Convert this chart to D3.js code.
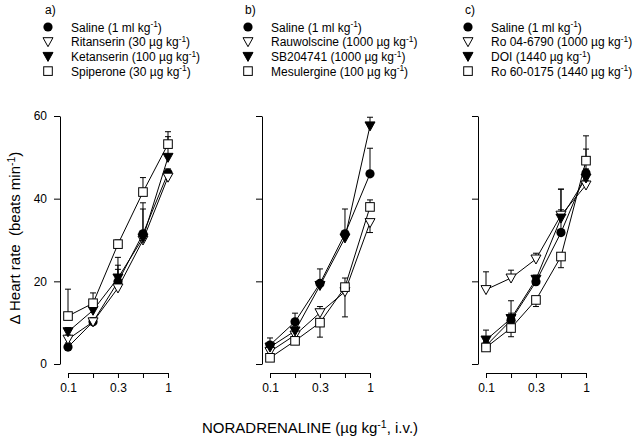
<!DOCTYPE html>
<html><head><meta charset="utf-8">
<script src="https://cdn.jsdelivr.net/npm/d3@7"></script>
<style>
body{margin:0;background:#fff}
svg{display:block;font-family:"Liberation Sans",Arial,sans-serif}
</style></head>
<body><svg id="c" width="640" height="439"></svg>
<script>
// ---- data ----
const doses = [0.1, 0.178, 0.316, 0.562, 1];
const xTickLabels = ["0.1", "", "0.3", "", "1"];
const yTicks = [0, 20, 40, 60];
const panelLabels = ["a)", "b)", "c)"];

const namesA = ["Saline", "Ritanserin", "Ketanserin", "Spiperone"];
const dosesA = ["1 ml kg", "30 µg kg", "100 µg kg", "30 µg kg"];
const salineA = [4.1, 10.2, 19.9, 31.5, 46.2];
const ritanserin = [6.0, 10.2, 18.4, 30.0, 45.2];
const ketanserin = [7.8, 13.0, 20.8, 30.5, 50.0];
const spiperone = [11.6, 14.7, 29.0, 41.6, 53.2];
const salineAErr = [1, 1, 4, 6, 1];
const ritanserinErr = [1, 1, 4.5, 1, 1];
const ketanserinErr = [1, 1, 5, 8.5, 5];
const spiperoneErr = [6.5, 2.5, 1, 3.5, 3];

const namesB = ["Saline", "Rauwolscine", "SB204741", "Mesulergine"];
const dosesB = ["1 ml kg", "1000 µg kg", "1000 µg kg", "100 µg kg"];
const salineB = [4.6, 10.2, 19.5, 31.5, 46.0];
const rauwolscine = [3.0, 7.0, 12.4, 17.5, 34.2];
const sb204741 = [4.1, 8.0, 19.0, 30.5, 57.6];
const mesulergine = [1.5, 5.6, 10.0, 18.6, 38.0];
const salineBErr = [1.7, 2.1, 3.5, 6, 6.2];
const rauwolscineErr = [1, 1, 1.5, -6.1, -2.4];
const sb204741Err = [1, 1, 1, 1, 2.1];
const mesulergineErr = [1, 1, -3.5, 2.2, 1.7];

const namesC = ["Saline", "Ro 04-6790", "DOI", "Ro 60-0175"];
const dosesC = ["1 ml kg", "1000 µg kg", "1440 µg kg", "1440 µg kg"];
const salineC = [4.4, 10.6, 19.9, 31.8, 46.2];
const ro046790 = [18.0, 20.8, 25.4, 36.0, 43.3];
const doi = [5.8, 11.0, 20.5, 35.3, 45.0];
const ro600175 = [4.0, 8.7, 15.5, 26.0, 49.2];
const salineCErr = [1, 1.7, 1, 5.5, 1];
const ro046790Err = [4.3, 1.9, 1.4, 6.3, 1];
const doiErr = [2.4, 4.3, 1, 7, 7];
const ro600175Err = [1, -2.1, -1.6, -2.7, 6];

const symbols = ["circle", "triOpen", "triFilled", "square"];

const panels = [
  {left: 60, names: namesA, doses: dosesA, series: [salineA, ritanserin, ketanserin, spiperone],
   errs: [salineAErr, ritanserinErr, ketanserinErr, spiperoneErr], legX: 45, yLabels: true},
  {left: 262, names: namesB, doses: dosesB, series: [salineB, rauwolscine, sb204741, mesulergine],
   errs: [salineBErr, rauwolscineErr, sb204741Err, mesulergineErr], legX: 245, yLabels: false},
  {left: 478, names: namesC, doses: dosesC, series: [salineC, ro046790, doi, ro600175],
   errs: [salineCErr, ro046790Err, doiErr, ro600175Err], legX: 465, yLabels: false}
];

// ---- drawing ----
const svg = d3.select("#c");
const y = d3.scaleLinear().domain([0, 60]).range([364, 116]);

function drawSymbol(g, type, cx, cy) {
  if (type === "circle") {
    g.append("circle").attr("cx", cx).attr("cy", cy).attr("r", 4.6).attr("fill", "#000");
  } else if (type === "square") {
    g.append("rect").attr("x", cx - 4.3).attr("y", cy - 4.3).attr("width", 8.6).attr("height", 8.6)
      .attr("fill", "#fff").attr("stroke", "#000").attr("stroke-width", 1);
  } else {
    const p = `M${cx - 5},${cy - 4}L${cx + 5},${cy - 4}L${cx},${cy + 5}Z`;
    g.append("path").attr("d", p)
      .attr("fill", type === "triFilled" ? "#000" : "#fff")
      .attr("stroke", "#000").attr("stroke-width", 1);
  }
}

function supText(sel, main, tail) {
  sel.append("tspan").text(main);
  sel.append("tspan").attr("font-size", "0.7em").attr("dy", "-0.5em").text("-1");
  sel.append("tspan").attr("dy", "0.35em").text(tail);
}

panels.forEach((P, pi) => {
  const x = d3.scaleLog().domain([0.1, 1]).range([P.left + 8, P.left + 108]);
  const g = svg.append("g");

  // y axis
  const yAx = d3.axisLeft(y).tickValues(yTicks).tickSize(6).tickSizeOuter(0)
    .tickFormat(P.yLabels ? d3.format("d") : () => "");
  const ya = g.append("g").attr("transform", `translate(${P.left},0)`).call(yAx);
  ya.selectAll("text").attr("font-size", 12).attr("fill", "#000").attr("x", -13)
    .attr("font-family", "Liberation Sans, Arial, sans-serif");
  ya.selectAll("path,line").attr("stroke", "#000");

  // x axis
  const xAx = d3.axisBottom(x).tickValues(doses).tickSize(5).tickSizeOuter(0)
    .tickFormat((d, i) => xTickLabels[i]);
  const xa = g.append("g").attr("transform", "translate(0,373)").call(xAx);
  xa.selectAll("text").attr("font-size", 12).attr("fill", "#000").attr("y", 10)
    .attr("font-family", "Liberation Sans, Arial, sans-serif");
  xa.selectAll("path,line").attr("stroke", "#000");

  // series
  P.series.forEach((vals, si) => {
    const errs = P.errs[si];
    const sg = g.append("g");
    vals.forEach((v, i) => {
      const e = errs[i];
      const cx = x(doses[i]);
      sg.append("line").attr("x1", cx).attr("x2", cx).attr("y1", y(v)).attr("y2", y(v + e))
        .attr("stroke", "#000").attr("stroke-width", 1);
      sg.append("line").attr("x1", cx - 3).attr("x2", cx + 3).attr("y1", y(v + e)).attr("y2", y(v + e))
        .attr("stroke", "#000").attr("stroke-width", 1);
    });
    const line = d3.line().x((d, i) => x(doses[i])).y(d => y(d));
    sg.append("path").attr("d", line(vals)).attr("fill", "none").attr("stroke", "#000").attr("stroke-width", 1);
  });
  P.series.forEach((vals, si) => {
    vals.forEach((v, i) => drawSymbol(g, symbols[si], x(doses[i]), y(v)));
  });

  // legend
  const lg = svg.append("g");
  lg.append("text").attr("x", P.legX).attr("y", 14).attr("font-size", 12).text(panelLabels[pi]);
  P.names.forEach((n, i) => {
    const ry = 27 + i * 14.7;
    drawSymbol(lg, symbols[i], P.legX + 3, ry);
    const t = lg.append("text").attr("x", P.legX + 26).attr("y", ry + 4.5).attr("font-size", 12);
    supText(t, `${n} (${P.doses[i]}`, ")");
  });
});

// axis titles
const yt = svg.append("text").attr("transform", "translate(20,238) rotate(-90)")
  .attr("text-anchor", "middle").attr("font-size", 15);
yt.append("tspan").text("Δ Heart rate\u00a0\u00a0(beats min");
yt.append("tspan").attr("font-size", "0.7em").attr("dy", "-0.5em").text("-1");
yt.append("tspan").attr("dy", "0.35em").text(")");

const xt = svg.append("text").attr("x", 202).attr("y", 433).attr("font-size", 15);
supText(xt, "NORADRENALINE (µg kg", ", i.v.)");
</script></body></html>
